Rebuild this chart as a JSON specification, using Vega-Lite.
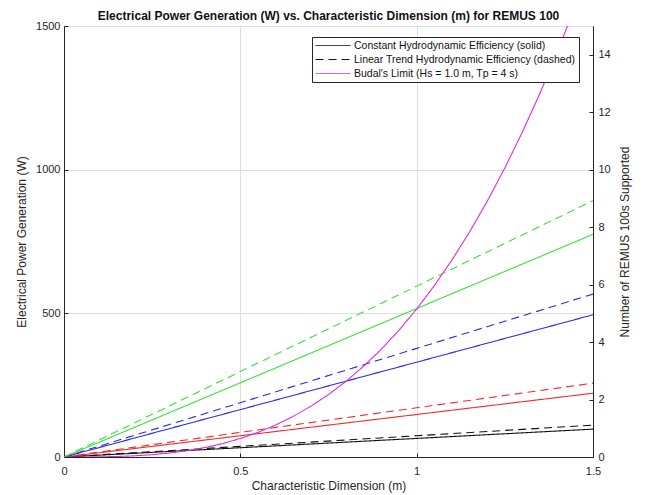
{
  "$schema": "https://vega.github.io/schema/vega-lite/v6.json",
  "width": 529,
  "height": 431,
  "autosize": "none",
  "padding": {"left": 64, "top": 26, "right": 53, "bottom": 38},
  "background": "white",
  "title": {
    "text": "Electrical Power Generation (W) vs. Characteristic Dimension (m) for REMUS 100",
    "font": "Liberation Sans",
    "fontSize": 12,
    "fontWeight": "bold",
    "color": "#111111",
    "offset": -3,
    "frame": "group",
    "anchor": "middle"
  },
  "config": {
    "view": {"stroke": "#262626", "strokeWidth": 1},
    "axis": {
      "labelFont": "Liberation Sans",
      "titleFont": "Liberation Sans",
      "labelFontSize": 11,
      "titleFontSize": 12,
      "titleFontWeight": "normal",
      "labelColor": "#262626",
      "titleColor": "#262626",
      "domainColor": "#262626",
      "tickColor": "#262626",
      "gridColor": "#dedede",
      "tickSize": -4
    },
    "legend": {"labelFont": "Liberation Sans"}
  },
  "layer": [
    {
      "data": {
        "values": [
          {"D": 0, "P": 0, "c": "black", "kind": "Constant Hydrodynamic Efficiency (solid)"},
          {"D": 0.5, "P": 32.3, "c": "black", "kind": "Constant Hydrodynamic Efficiency (solid)"},
          {"D": 1, "P": 64.7, "c": "black", "kind": "Constant Hydrodynamic Efficiency (solid)"},
          {"D": 1.5, "P": 97, "c": "black", "kind": "Constant Hydrodynamic Efficiency (solid)"},
          {"D": 0, "P": 0, "c": "black", "kind": "Linear Trend Hydrodynamic Efficiency (dashed)"},
          {"D": 0.5, "P": 37, "c": "black", "kind": "Linear Trend Hydrodynamic Efficiency (dashed)"},
          {"D": 1, "P": 74, "c": "black", "kind": "Linear Trend Hydrodynamic Efficiency (dashed)"},
          {"D": 1.5, "P": 111, "c": "black", "kind": "Linear Trend Hydrodynamic Efficiency (dashed)"},
          {"D": 0, "P": 0, "c": "red", "kind": "Constant Hydrodynamic Efficiency (solid)"},
          {"D": 0.5, "P": 74, "c": "red", "kind": "Constant Hydrodynamic Efficiency (solid)"},
          {"D": 1, "P": 148, "c": "red", "kind": "Constant Hydrodynamic Efficiency (solid)"},
          {"D": 1.5, "P": 222, "c": "red", "kind": "Constant Hydrodynamic Efficiency (solid)"},
          {"D": 0, "P": 0, "c": "red", "kind": "Linear Trend Hydrodynamic Efficiency (dashed)"},
          {"D": 0.5, "P": 85.7, "c": "red", "kind": "Linear Trend Hydrodynamic Efficiency (dashed)"},
          {"D": 1, "P": 171.3, "c": "red", "kind": "Linear Trend Hydrodynamic Efficiency (dashed)"},
          {"D": 1.5, "P": 257, "c": "red", "kind": "Linear Trend Hydrodynamic Efficiency (dashed)"},
          {"D": 0, "P": 0, "c": "blue", "kind": "Constant Hydrodynamic Efficiency (solid)"},
          {"D": 0.5, "P": 165, "c": "blue", "kind": "Constant Hydrodynamic Efficiency (solid)"},
          {"D": 1, "P": 330, "c": "blue", "kind": "Constant Hydrodynamic Efficiency (solid)"},
          {"D": 1.5, "P": 495, "c": "blue", "kind": "Constant Hydrodynamic Efficiency (solid)"},
          {"D": 0, "P": 0, "c": "blue", "kind": "Linear Trend Hydrodynamic Efficiency (dashed)"},
          {"D": 0.5, "P": 189, "c": "blue", "kind": "Linear Trend Hydrodynamic Efficiency (dashed)"},
          {"D": 1, "P": 378, "c": "blue", "kind": "Linear Trend Hydrodynamic Efficiency (dashed)"},
          {"D": 1.5, "P": 567, "c": "blue", "kind": "Linear Trend Hydrodynamic Efficiency (dashed)"},
          {"D": 0, "P": 0, "c": "green", "kind": "Constant Hydrodynamic Efficiency (solid)"},
          {"D": 0.5, "P": 258.3, "c": "green", "kind": "Constant Hydrodynamic Efficiency (solid)"},
          {"D": 1, "P": 516.7, "c": "green", "kind": "Constant Hydrodynamic Efficiency (solid)"},
          {"D": 1.5, "P": 775, "c": "green", "kind": "Constant Hydrodynamic Efficiency (solid)"},
          {"D": 0, "P": 0, "c": "green", "kind": "Linear Trend Hydrodynamic Efficiency (dashed)"},
          {"D": 0.5, "P": 297.3, "c": "green", "kind": "Linear Trend Hydrodynamic Efficiency (dashed)"},
          {"D": 1, "P": 594.7, "c": "green", "kind": "Linear Trend Hydrodynamic Efficiency (dashed)"},
          {"D": 1.5, "P": 892, "c": "green", "kind": "Linear Trend Hydrodynamic Efficiency (dashed)"},
          {"D": 0, "P": 0, "c": "magenta", "kind": "Budal's Limit (Hs = 1.0 m, Tp = 4 s)"},
          {"D": 0.05, "P": 0.06, "c": "magenta", "kind": "Budal's Limit (Hs = 1.0 m, Tp = 4 s)"},
          {"D": 0.1, "P": 0.5, "c": "magenta", "kind": "Budal's Limit (Hs = 1.0 m, Tp = 4 s)"},
          {"D": 0.15, "P": 1.7, "c": "magenta", "kind": "Budal's Limit (Hs = 1.0 m, Tp = 4 s)"},
          {"D": 0.2, "P": 4.1, "c": "magenta", "kind": "Budal's Limit (Hs = 1.0 m, Tp = 4 s)"},
          {"D": 0.25, "P": 8.0, "c": "magenta", "kind": "Budal's Limit (Hs = 1.0 m, Tp = 4 s)"},
          {"D": 0.3, "P": 13.9, "c": "magenta", "kind": "Budal's Limit (Hs = 1.0 m, Tp = 4 s)"},
          {"D": 0.35, "P": 22.1, "c": "magenta", "kind": "Budal's Limit (Hs = 1.0 m, Tp = 4 s)"},
          {"D": 0.4, "P": 33.0, "c": "magenta", "kind": "Budal's Limit (Hs = 1.0 m, Tp = 4 s)"},
          {"D": 0.45, "P": 46.9, "c": "magenta", "kind": "Budal's Limit (Hs = 1.0 m, Tp = 4 s)"},
          {"D": 0.5, "P": 64.4, "c": "magenta", "kind": "Budal's Limit (Hs = 1.0 m, Tp = 4 s)"},
          {"D": 0.55, "P": 85.7, "c": "magenta", "kind": "Budal's Limit (Hs = 1.0 m, Tp = 4 s)"},
          {"D": 0.6, "P": 111.2, "c": "magenta", "kind": "Budal's Limit (Hs = 1.0 m, Tp = 4 s)"},
          {"D": 0.65, "P": 141.4, "c": "magenta", "kind": "Budal's Limit (Hs = 1.0 m, Tp = 4 s)"},
          {"D": 0.7, "P": 176.6, "c": "magenta", "kind": "Budal's Limit (Hs = 1.0 m, Tp = 4 s)"},
          {"D": 0.75, "P": 217.3, "c": "magenta", "kind": "Budal's Limit (Hs = 1.0 m, Tp = 4 s)"},
          {"D": 0.8, "P": 263.7, "c": "magenta", "kind": "Budal's Limit (Hs = 1.0 m, Tp = 4 s)"},
          {"D": 0.85, "P": 316.3, "c": "magenta", "kind": "Budal's Limit (Hs = 1.0 m, Tp = 4 s)"},
          {"D": 0.9, "P": 375.4, "c": "magenta", "kind": "Budal's Limit (Hs = 1.0 m, Tp = 4 s)"},
          {"D": 0.95, "P": 441.6, "c": "magenta", "kind": "Budal's Limit (Hs = 1.0 m, Tp = 4 s)"},
          {"D": 1.0, "P": 515.0, "c": "magenta", "kind": "Budal's Limit (Hs = 1.0 m, Tp = 4 s)"},
          {"D": 1.05, "P": 596.2, "c": "magenta", "kind": "Budal's Limit (Hs = 1.0 m, Tp = 4 s)"},
          {"D": 1.1, "P": 685.5, "c": "magenta", "kind": "Budal's Limit (Hs = 1.0 m, Tp = 4 s)"},
          {"D": 1.15, "P": 783.2, "c": "magenta", "kind": "Budal's Limit (Hs = 1.0 m, Tp = 4 s)"},
          {"D": 1.2, "P": 889.9, "c": "magenta", "kind": "Budal's Limit (Hs = 1.0 m, Tp = 4 s)"},
          {"D": 1.25, "P": 1005.9, "c": "magenta", "kind": "Budal's Limit (Hs = 1.0 m, Tp = 4 s)"},
          {"D": 1.3, "P": 1131.5, "c": "magenta", "kind": "Budal's Limit (Hs = 1.0 m, Tp = 4 s)"},
          {"D": 1.35, "P": 1267.0, "c": "magenta", "kind": "Budal's Limit (Hs = 1.0 m, Tp = 4 s)"},
          {"D": 1.4, "P": 1413.2, "c": "magenta", "kind": "Budal's Limit (Hs = 1.0 m, Tp = 4 s)"},
          {"D": 1.45, "P": 1570.0, "c": "magenta", "kind": "Budal's Limit (Hs = 1.0 m, Tp = 4 s)"}
        ]
      },
      "mark": {"type": "line", "clip": true, "strokeWidth": 1.1},
      "encoding": {
        "x": {
          "field": "D",
          "type": "quantitative",
          "scale": {"domain": [0, 1.5], "nice": false, "zero": false},
          "axis": {
            "values": [0, 0.5, 1, 1.5],
            "format": "~g",
            "title": "Characteristic Dimension (m)",
            "grid": true,
            "labelPadding": 12,
            "titlePadding": 4,
            "labelFlush": false
          }
        },
        "y": {
          "field": "P",
          "type": "quantitative",
          "scale": {"domain": [0, 1500], "nice": false},
          "axis": {
            "values": [0, 500, 1000, 1500],
            "format": "d",
            "title": "Electrical Power Generation (W)",
            "grid": true,
            "labelPadding": 8,
            "titlePadding": 7,
            "labelFlush": false
          }
        },
        "color": {
          "field": "c",
          "type": "nominal",
          "scale": {
            "domain": ["black", "red", "blue", "green", "magenta"],
            "range": ["#111111", "#f22a2a", "#2a2ae8", "#3ce03c", "#e02ae0"]
          },
          "legend": null
        },
        "strokeDash": {
          "field": "kind",
          "type": "nominal",
          "scale": {
            "domain": [
              "Constant Hydrodynamic Efficiency (solid)",
              "Linear Trend Hydrodynamic Efficiency (dashed)",
              "Budal's Limit (Hs = 1.0 m, Tp = 4 s)"
            ],
            "range": [[1, 0], [8, 5], [1, 0]]
          },
          "legend": {
            "title": null,
            "orient": "none",
            "legendX": 248,
            "legendY": 11,
            "fillColor": "white",
            "strokeColor": "#262626",
            "padding": 3,
            "labelFontSize": 10.5,
            "labelLimit": 400,
            "labelColor": "#111111",
            "labelOffset": 28,
            "symbolType": "M-1,0H6",
            "symbolSize": 100,
            "symbolStrokeWidth": 1,
            "rowPadding": 3,
            "encode": {
              "symbols": {
                "update": {
                  "stroke": {"signal": "datum.index === 2 ? '#e02ae0' : '#111111'"}
                }
              }
            }
          }
        },
        "order": {"field": "D", "type": "quantitative"}
      }
    },
    {
      "data": {"values": [{"remus": 0}, {"remus": 15}]},
      "mark": {"type": "point", "opacity": 0},
      "encoding": {
        "y": {
          "field": "remus",
          "type": "quantitative",
          "scale": {"domain": [0, 15], "nice": false},
          "axis": {
            "orient": "right",
            "values": [0, 2, 4, 6, 8, 10, 12, 14],
            "title": "Number of REMUS 100s Supported",
            "titleAngle": 270,
            "titleBaseline": "top",
            "grid": false,
            "labelPadding": 9,
            "titlePadding": 9,
            "labelFlush": false
          }
        }
      }
    }
  ],
  "resolve": {"scale": {"y": "independent"}}
}
